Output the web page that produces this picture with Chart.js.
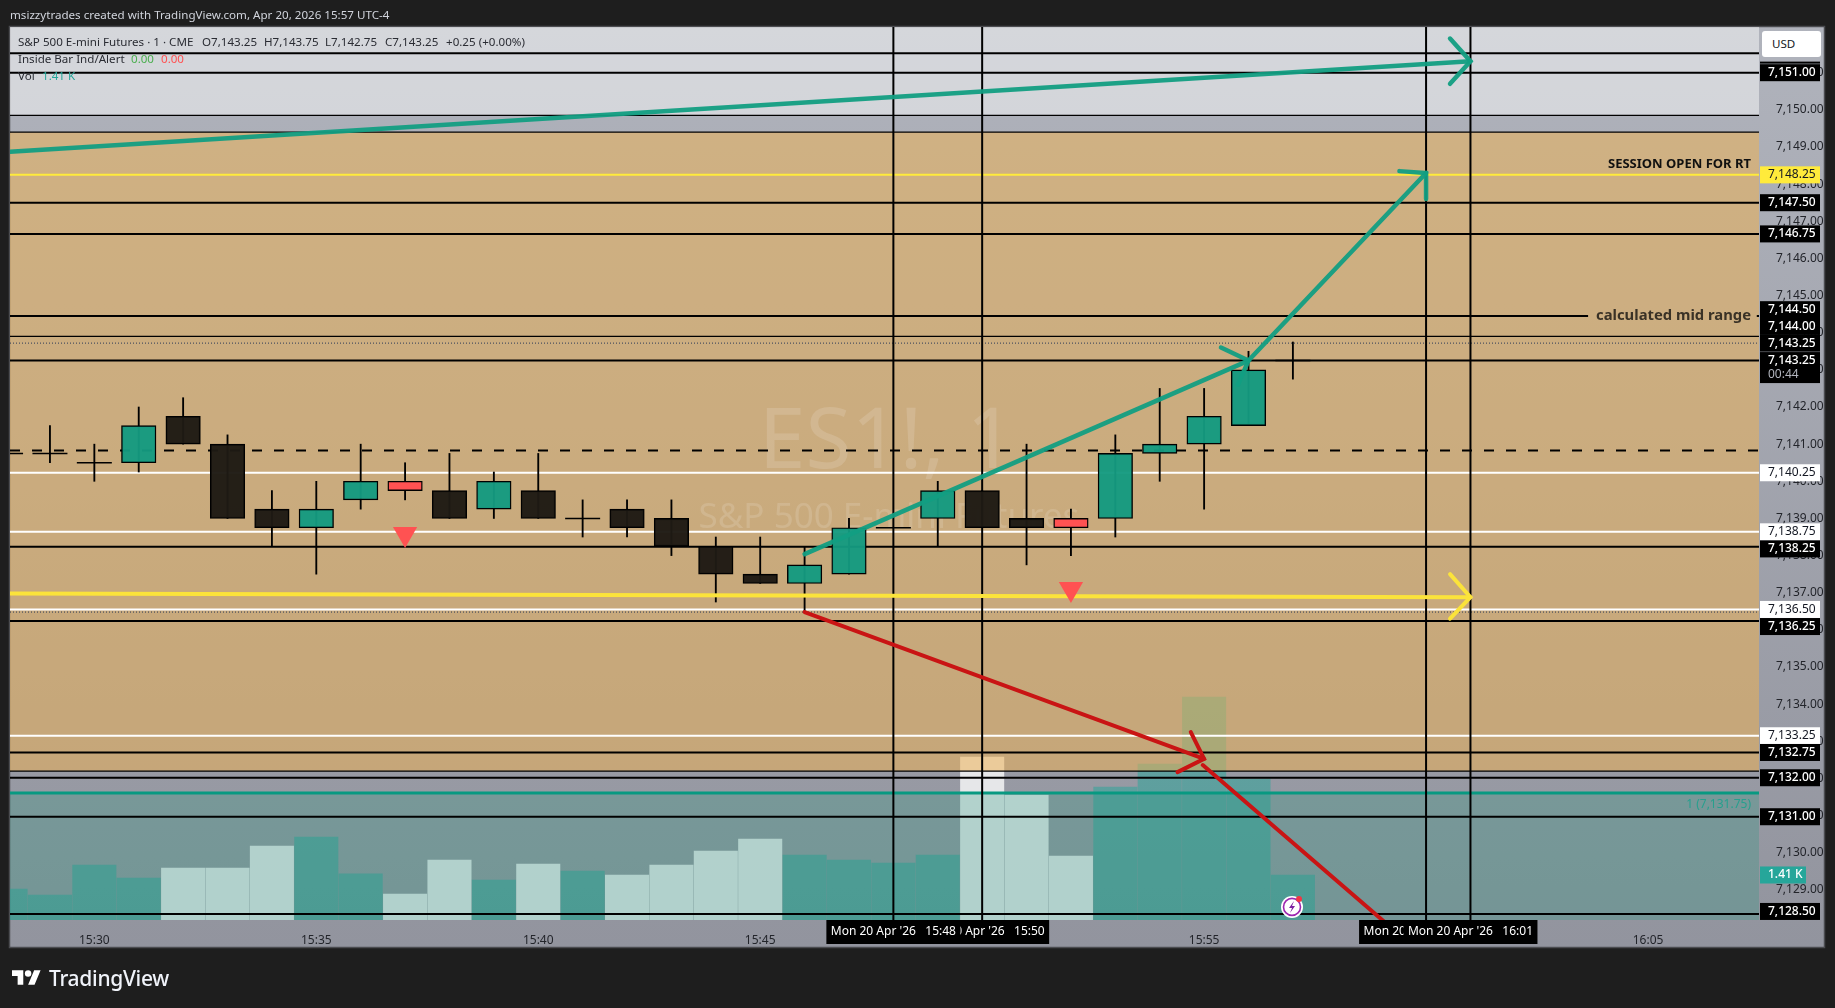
<!DOCTYPE html>
<html><head><meta charset="utf-8">
<style>
html,body{margin:0;padding:0;background:#1e1e1e;overflow:hidden}
body{width:1835px;height:1008px;position:relative;font-family:"Noto Sans",sans-serif}
canvas{position:absolute;left:0;top:0}
.t{position:absolute;white-space:pre;font-size:11.6px;line-height:16px;color:#2a2c33}
</style>
<script src="https://cdn.jsdelivr.net/npm/chart.js@4"></script>
</head><body>
<canvas id="c" width="1835" height="1008"></canvas>
<div class="t" style="left:10px;top:7px;color:#d1d4dc">msizzytrades created with TradingView.com, Apr 20, 2026 15:57 UTC-4</div>
<div class="t" style="left:18px;top:34px">S&amp;P 500 E-mini Futures · 1 · CME</div>
<div class="t" style="left:202px;top:34px">O7,143.25</div>
<div class="t" style="left:264px;top:34px">H7,143.75</div>
<div class="t" style="left:325px;top:34px">L7,142.75</div>
<div class="t" style="left:385px;top:34px">C7,143.25</div>
<div class="t" style="left:446px;top:34px">+0.25 (+0.00%)</div>
<div class="t" style="left:18px;top:51px">Inside Bar Ind/Alert</div>
<div class="t" style="left:131px;top:51px;color:#4caf50">0.00</div>
<div class="t" style="left:161px;top:51px;color:#ff5252">0.00</div>
<div class="t" style="left:18px;top:68px">Vol</div>
<div class="t" style="left:42px;top:68px;color:#26a69a">1.41 K</div>
<div style="position:absolute;left:1762px;top:31px;width:59px;height:26px;background:#fff;border-radius:3px"></div>
<div class="t" style="left:1772px;top:36px;color:#131722">USD</div>
<svg style="position:absolute;left:12px;top:967px" width="29" height="22" viewBox="0 0 36 27"><path fill="#fff" d="M14 22H7V11H0V4h14v18zM28 22h-8l7.5-18h8L28 22z"/><circle fill="#fff" cx="20" cy="8" r="4"/></svg>
<div class="t" style="left:49px;top:965px;font-size:21px;line-height:26px;color:#f0f3fa;font-weight:500;letter-spacing:-.3px">TradingView</div>
<script>
const minutes=[-2,-1,0,1,2,3,4,5,6,7,8,9,10,11,12,13,14,15,16,17,18,19,20,21,22,23,24,25,26,27];
const opens =[7140.75,7140.75,7140.5,7140.5,7141.75,7141,7139.25,7138.75,7139.5,7140,7139.75,7139.25,7139.75,7139,7139.25,7139,7138.25,7137.5,7137.25,7137.5,7138.75,7139,7139.75,7139,7139,7139,7140.75,7141,7141.5,7143.25];
const highs =[7140.75,7141.5,7141,7142,7142.25,7141.25,7139.75,7140,7141,7140.5,7140.75,7140.25,7140.75,7139.5,7139.5,7139.5,7138.5,7138.5,7138.25,7139,7138.75,7140,7139.75,7141,7139.25,7141.25,7142.5,7142.5,7143.5,7143.75];
const lows  =[7140.75,7140.5,7140,7140.25,7141,7139,7138.25,7137.5,7139.25,7139.5,7139,7139,7139,7138.5,7138.5,7138,7136.75,7137.25,7136.5,7137.5,7138.75,7138.25,7138.75,7137.75,7138,7138.5,7140,7139.25,7141.5,7142.75];
const closes=[7140.75,7140.75,7140.5,7141.5,7141,7139,7138.75,7139.25,7140,7139.75,7139,7140,7139,7139,7138.75,7138.25,7137.5,7137.25,7137.75,7138.75,7138.75,7139.75,7138.75,7138.75,7138.75,7140.75,7141,7141.75,7143,7143.25];
const volumes=[970,783,1722,1315,1628,1628,2316,2598,1449,814,1878,1252,1753,1534,1409,1722,2160,2535,2035,1878,1784,2035,5102,3913,2003,4163,4883,6980,4413,1410];
const signalMinutes=[7,22];
const signalPrices=[7138.58,7137.1];
const priceTicks=[7151,7150,7149,7148,7147,7146,7145,7144,7143,7142,7141,7140,7139,7138,7137,7136,7135,7134,7133,7132,7131,7130,7129];
const timeTickMinutes=[0,5,10,15,20,25,30,35];
const timeTickLabels=["15:30","15:35","15:40","15:45","15:50","15:55","16:00","16:05"];
const verticalMinutes=[18,20,30,31];
const blackLevels=[7151.52,7151,7147.5,7146.66,7143.25,7138.24,7136.24,7132.7,7132.02,7130.97,7128.35];
const thinLevels=[7149.85,7149.4,7143.9,7132.2];
const whiteLevels=[7140.23,7138.64,7136.55,7133.15];
const dottedLevels=[7143.72,7136.48];
const dashedLevel=7140.83;
const yellowLevel=7148.25;
const midLevel=7144.45;
const fibLevel=7131.61;
const xMin=-1.9,xMax=37.5,yMax=7152.23,yMin=7128.19,vMax=27975;
const bands=[[yMax,7149.85,'rgba(255,255,255,0.47)'],[7149.4,7132.2,'rgba(240,178,82,0.52)'],[7131.61,yMin,'rgba(31,152,123,0.26)']];
const tagTexts=["7,151.00","7,148.25","7,147.50","7,146.75","7,144.50","7,144.00","7,143.25","7,143.25","7,140.25","7,138.75","7,138.25","7,136.50","7,136.25","7,133.25","7,132.75","7,132.00","7,131.00","7,128.50"];
const tagLevels=[7151,7148.25,7147.5,7146.66,7144.62,7144.17,7143.72,7143.25,7140.23,7138.64,7138.18,7136.55,7136.09,7133.15,7132.7,7132.02,7130.97,7128.42];
const tagKinds=["k","y","k","k","k","k","k","k","w","w","k","w","k","w","k","k","k","k"];
const timeTagMinutes=[20,18,30,31];
const timeTagTexts=["Mon 20 Apr '26   15:50","Mon 20 Apr '26   15:48","Mon 20 Apr '26   16:00","Mon 20 Apr '26   16:01"];
const arrowTeal=[[[-1.9,7148.87],[31,7151.31]],[[30.54,7151.92],[31,7151.31],[30.54,7150.7]],[[16,7138.04],[26,7143.25]],[[25.38,7143.6],[26,7143.25],[25.76,7142.6]],[[26,7143.25],[30,7148.3]],[[29.4,7148.35],[30,7148.3],[30,7147.6]]];
const arrowYellow=[[[-1.9,7136.98],[31,7136.88]],[[30.54,7137.5],[31,7136.88],[30.54,7136.3]]];
const arrowRed=[[[16,7136.48],[25,7132.53]],[[24.7,7133.25],[25,7132.53],[24.4,7132.17]],[[24.97,7132.36],[29.1,7128.1]]];

const FONT='"Noto Sans",sans-serif';
const isDoji=i=>opens[i]===closes[i];
const up=i=>closes[i]>=opens[i];
const bodyColor=i=>signalMinutes.includes(minutes[i])?'#ff5252':(up(i)?'rgba(20,154,128,.96)':'rgba(30,26,20,.97)');
const idx=minutes.map((_,i)=>i);
const hline=(lvl,color,w,extra)=>Object.assign({type:'line',data:[{x:xMin,y:lvl},{x:xMax,y:lvl}],borderColor:color,borderWidth:w,pointRadius:0,order:70},extra||{});
const poly=(pts,color,w,order)=>({type:'line',data:pts.map(p=>({x:p[0],y:p[1]})),borderColor:color,borderWidth:w,pointRadius:0,tension:0,order:order,borderCapStyle:'round',borderJoinStyle:'miter'});

const datasets=[];
datasets.push({id:'vol',type:'bar',yAxisID:'v',order:100,grouped:false,barThickness:43.4,
  data:idx.map(i=>({x:minutes[i],y:volumes[i]})),
  backgroundColor:idx.map(i=>up(i)?'rgba(38,166,154,.5)':'rgba(255,255,255,.76)')});
thinLevels.forEach(l=>datasets.push(hline(l,'#000',1.2)));
blackLevels.forEach(l=>datasets.push(hline(l,'#000',2)));
whiteLevels.forEach(l=>datasets.push(hline(l,'#fff',2)));
dottedLevels.forEach(l=>datasets.push(hline(l,'#2c3a55',1,{borderDash:[1,2]})));
datasets.push(hline(dashedLevel,'#000',2,{borderDash:[10,12]}));
datasets.push(hline(yellowLevel,'#ffeb3b',2));
datasets.push(hline(fibLevel,'#089981',3));
datasets.push({type:'line',spanGaps:false,order:70,borderColor:'#000',borderWidth:2,pointRadius:0,
  data:[{x:xMin,y:midLevel},{x:33.65,y:midLevel},{x:33.66,y:null},{x:37.45,y:midLevel},{x:xMax,y:midLevel}]});
verticalMinutes.forEach(m=>datasets.push({type:'line',order:60,borderColor:'#000',borderWidth:2,pointRadius:0,data:[{x:m,y:yMin},{x:m,y:yMax}]}));
datasets.push({id:'wick',type:'bar',order:50,grouped:false,barThickness:1.2,backgroundColor:'#000',
  data:idx.map(i=>({x:minutes[i],y:[lows[i],highs[i]]}))});
const bodyIdx=idx.filter(i=>!isDoji(i));
datasets.push({type:'bar',order:40,grouped:false,barThickness:34.5,borderColor:'#000',borderWidth:1.4,borderSkipped:false,
  data:bodyIdx.map(i=>({x:minutes[i],y:[Math.min(opens[i],closes[i]),Math.max(opens[i],closes[i])]})),
  backgroundColor:bodyIdx.map(bodyColor)});
datasets.push({type:'line',order:39,showLine:false,pointStyle:'line',pointRadius:17.5,pointBorderColor:'#000',pointBorderWidth:1.4,
  data:idx.filter(isDoji).map(i=>({x:minutes[i],y:opens[i]}))});
arrowYellow.forEach(p=>datasets.push(poly(p,'#fbe33b',4,30)));
arrowRed.forEach(p=>datasets.push(poly(p,'#c91414',4,30)));
arrowTeal.forEach(p=>datasets.push(poly(p,'rgba(18,158,130,.95)',4.5,30)));
datasets.push({type:'line',order:20,showLine:false,pointStyle:'triangle',rotation:180,pointRadius:14,pointBackgroundColor:'#ff5252',pointBorderWidth:0,
  data:signalMinutes.map((m,i)=>({x:m,y:signalPrices[i]}))});

function drawBands(chart){
  const {ctx,chartArea:a,scales:{y,x}}=chart;
  ctx.save();
  bands.forEach(b=>{const t=y.getPixelForValue(b[0]),e=y.getPixelForValue(b[1]);ctx.fillStyle=b[2];ctx.fillRect(a.left,t,a.right-a.left,e-t);});
  ctx.textAlign='center';ctx.textBaseline='middle';ctx.fillStyle='rgba(255,255,255,.14)';
  ctx.font='84px '+FONT;ctx.fillText('ES1!, 1',x.getPixelForValue(17.85),y.getPixelForValue(7141));
  ctx.font='35px '+FONT;ctx.fillText('S&P 500 E-mini Futures',x.getPixelForValue(17.9),y.getPixelForValue(7139));
  ctx.restore();
}
const overlay={id:'overlay',
 beforeDraw(chart){
  const ctx=chart.ctx,a=chart.chartArea;
  ctx.save();ctx.fillStyle='#1e1e1e';ctx.fillRect(0,0,1835,1008);
  const g=ctx.createLinearGradient(0,27,0,947);g.addColorStop(0,'#b0b3bc');g.addColorStop(1,'#92949e');
  ctx.fillStyle=g;ctx.fillRect(a.left,a.top,a.width+65,a.height+27);
  ctx.strokeStyle='#4b4c50';ctx.lineWidth=1.5;ctx.strokeRect(a.left-.5,a.top-.5,a.width+66,a.height+28);
  ctx.restore();
 },
 afterDatasetDraw(chart,args){ if(chart.data.datasets[args.index].id==='vol') drawBands(chart); },
 afterDraw(chart){
  const {ctx,chartArea:a,scales:{x,y,v}}=chart;
  ctx.save();
  ctx.textBaseline='middle';ctx.font='bold 13px '+FONT;
  ctx.textAlign='right';ctx.fillStyle='#111';ctx.fillText('SESSION OPEN FOR RT',a.right-8,y.getPixelForValue(7148.54));
  ctx.font='bold 14.8px '+FONT;ctx.fillStyle='#3a3226';ctx.fillText('calculated mid range',a.right-8,y.getPixelForValue(midLevel));
  ctx.font='12px '+FONT;ctx.fillStyle='#26a08e';ctx.fillText('1 (7,131.75)',a.right-8,y.getPixelForValue(7131.29));
  // lightning badge
  const bx=x.getPixelForValue(26.98),by=v.getPixelForValue(410);
  ctx.beginPath();ctx.arc(bx,by,11,0,Math.PI*2);ctx.fillStyle='#fff';ctx.fill();
  ctx.beginPath();ctx.arc(bx,by,8.5,0,Math.PI*2);ctx.strokeStyle='#9c27b0';ctx.lineWidth=1.6;ctx.stroke();
  ctx.beginPath();ctx.moveTo(bx+2,by-6);ctx.lineTo(bx-3,by+1);ctx.lineTo(bx,by+1);ctx.lineTo(bx-2,by+6);ctx.lineTo(bx+3,by-1);ctx.lineTo(bx,by-1);ctx.closePath();ctx.fillStyle='#7b1fa2';ctx.fill();
  ctx.beginPath();ctx.arc(bx+7,by-8,3,0,Math.PI*2);ctx.fillStyle='#f23645';ctx.fill();
  // price tags
  ctx.textAlign='left';
  const R=a.right+1,W=60,H=17;
  ctx.fillStyle='#000';ctx.fillRect(R,y.getPixelForValue(7151.5)+7.5,W,2);
  tagTexts.forEach((t,i)=>{
    const py=y.getPixelForValue(tagLevels[i]),k=tagKinds[i];
    ctx.fillStyle=k==='k'?'#000':k==='y'?'#ffeb3b':'#fff';
    const top=Math.min(py-H/2,a.bottom-H);
    ctx.fillRect(R,top,W,i===7?H+14:H);
    ctx.fillStyle=k==='k'?'#fff':'#131722';ctx.font=(k==='k'?'500 ':'')+'12px '+FONT;
    ctx.fillText(t,R+8,top+H/2);
    if(i===7){ctx.fillStyle='#b2b5be';ctx.font='12px '+FONT;ctx.fillText('00:44',R+8,top+H/2+14);}
  });
  const vy=v.getPixelForValue(volumes[volumes.length-1]);
  ctx.fillStyle='#26a69a';ctx.fillRect(R,vy-8.5,46,17);
  ctx.fillStyle='#fff';ctx.font='500 12px '+FONT;ctx.fillText('1.41 K',R+8,vy);
  // time tags
  ctx.font='12px '+FONT;
  timeTagMinutes.forEach((m,i)=>{
    const px=x.getPixelForValue(m),w=134;
    ctx.fillStyle='#000';ctx.fillRect(px-w/2,a.bottom,w,24);
    ctx.fillStyle='#fff';ctx.textAlign='center';ctx.fillText(timeTagTexts[i],px,a.bottom+12);
  });
  ctx.restore();
 }};
new Chart(document.getElementById('c'),{
 data:{datasets},
 plugins:[overlay],
 options:{responsive:false,animation:false,devicePixelRatio:1,
  layout:{autoPadding:false,padding:{left:10,top:27,right:11,bottom:61}},
  plugins:{legend:{display:false},tooltip:{enabled:false},title:{display:false}},
  scales:{
   x:{type:'linear',min:xMin,max:xMax,offset:false,grid:{display:false},border:{display:false},
      afterBuildTicks(s){s.ticks=timeTickMinutes.map(v=>({value:v}));},
      afterFit(s){s.height=27;s.paddingLeft=0;s.paddingRight=0;},
      ticks:{autoSkip:false,maxRotation:0,padding:5,color:'#23252b',font:{family:FONT,size:12},callback:v=>timeTickLabels[timeTickMinutes.indexOf(v)]}},
   y:{type:'linear',position:'right',min:yMin,max:yMax,grid:{display:false},border:{display:false},
      afterBuildTicks(s){s.ticks=priceTicks.map(v=>({value:v}));},
      afterFit(s){s.width=65;s.paddingTop=0;s.paddingBottom=0;},
      ticks:{autoSkip:false,padding:9,color:'#23252b',font:{family:FONT,size:12},callback:v=>v.toLocaleString('en-US',{minimumFractionDigits:2})}},
   v:{type:'linear',display:false,position:'left',min:0,max:vMax,grid:{drawTicks:false},afterFit(s){s.width=0;}}
  }}
});
</script>
</body></html>
